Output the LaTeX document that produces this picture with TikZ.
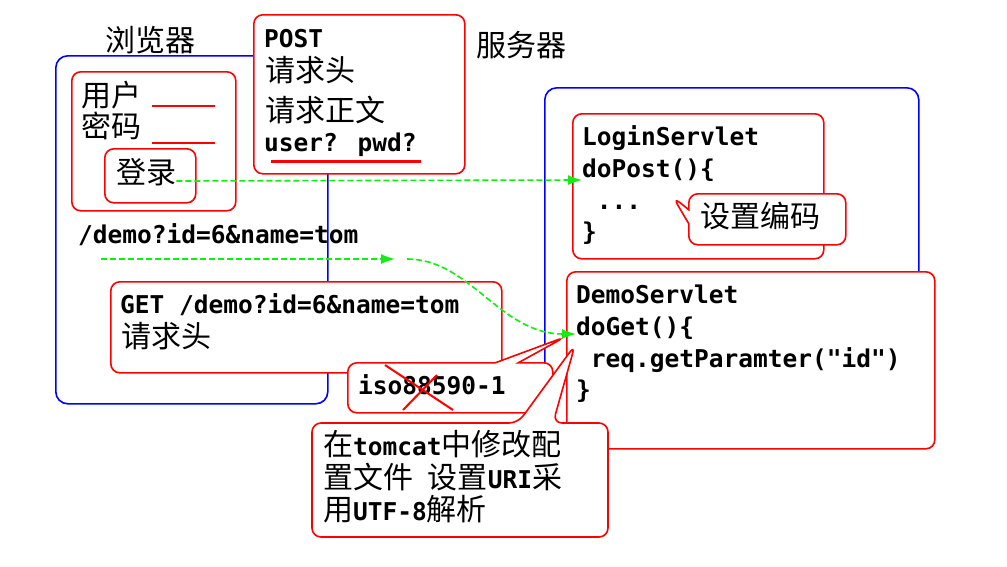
\documentclass[tikz,border=0pt]{standalone}
\usepackage{fontspec}
\usepackage{tikz}
\usetikzlibrary{arrows.meta,shapes.callouts}
\newfontfamily\monofont{DejaVu Sans Mono}
\newfontfamily\zhfont{Noto Sans CJK SC}[Scale=1.2245, BoldFont={Noto Sans CJK SC}]
\definecolor{azul}{HTML}{0000FF}
\definecolor{vermelho}{HTML}{FF0000}
\definecolor{verde}{HTML}{11EE11}
\tikzstyle{janela}=[draw=azul, line width=1.6pt, rounded corners=12pt, inner sep=0pt, anchor=north west]
\tikzstyle{caixa}=[draw=vermelho, fill=white, line width=1.6pt, rounded corners=9pt, inner sep=0pt, anchor=north west]
\tikzstyle{balao}=[caixa, rectangle callout]
\tikzstyle{texto}=[inner sep=0pt, anchor=base west, font={\fontsize{24.5}{30}\selectfont\monofont\bfseries}]
\tikzstyle{seta}=[draw=verde, line width=1.6pt, dash pattern=on 6pt off 3pt, -{Latex[length=14pt,width=10pt]}]

\begin{document}
\begin{tikzpicture}[x=1pt, y=-1pt]
	\useasboundingbox (0,0) rectangle (1007,566);
	% navegador e servidor
	\node[janela, minimum width=272pt, minimum height=348pt] (nav) at (55,55) {};
	\node[janela, minimum width=374pt, minimum height=288pt] (serv) at (544,87) {};
	\node[texto] (navt) at (105,51) {\zhfont 浏览器};
	\node[texto] (servt) at (476,56) {\zhfont 服务器};
	% pedido POST
	\node[caixa, minimum width=211pt, minimum height=159pt] (post) at (253,14) {};
	\node[texto] (p1) at (264,47) {POST};
	\node[texto] (p2) at (265,81) {\zhfont 请求头};
	\node[texto] (p3) at (265,121.5) {\zhfont 请求正文};
	\node[texto] (p4) at (264,151) {user? pwd?};
	\draw[vermelho, line width=3pt] (271,161) -- (421,161);
	% formulario
	\node[caixa, minimum width=164pt, minimum height=139pt] (form) at (71,71) {};
	\node[texto] (usuario) at (81,106) {\zhfont 用户};
	\node[texto] (senha) at (81,137.5) {\zhfont 密码};
	\draw[vermelho, line width=2pt] (152,106) -- (215,106) (152,143) -- (215,143);
	\node[caixa, minimum width=91pt, minimum height=54pt] (botao) at (104,148) {};
	\node[texto] (entrar) at (116,183.5) {\zhfont 登录};
	\node[texto] (url) at (78,243) {/demo?id=6\&name=tom};
	% LoginServlet
	\node[caixa, minimum width=251pt, minimum height=145pt] (login) at (572,113) {};
	\node[texto] (l1) at (582,145) {LoginServlet};
	\node[texto] (dopost) at (582,177) {doPost()\{};
	\node[texto] (l3) at (582,209) {\ ...};
	\node[texto] (l4) at (582,240) {\}};
	\node[balao, minimum width=157pt, minimum height=51pt, callout absolute pointer={(673,197)}, callout pointer width=14pt] (cod) at (688,193) {};
	\node[texto] (codt) at (700,227) {\zhfont 设置编码};
	% pedido GET
	\node[caixa, minimum width=391pt, minimum height=91pt] (get) at (110,281) {};
	\node[texto] (g1) at (120,313) {GET /demo?id=6\&name=tom};
	\node[texto] (g2) at (121,347) {\zhfont 请求头};
	% DemoServlet
	\node[caixa, minimum width=368pt, minimum height=177pt] (demo) at (566,271) {};
	\node[texto] (d1) at (576,303) {DemoServlet};
	\node[texto] (doget) at (576,335) {doGet()\{};
	\node[texto] (d3) at (576,367) {\ req.getParamter("id")};
	\node[texto] (d4) at (576,398) {\}};
	% setas
	\coordinate (ini) at (101,259);
	\coordinate (meio) at (395,259);
	\coordinate (volta) at (407,259);
	\draw[seta] ([yshift=2.5pt]entrar.base east) -- ([yshift=-3pt]dopost.base west);
	\draw[seta] (ini) -- (meio);
	\draw[seta] (volta) .. controls (470,259) and (500,334) .. ([yshift=1pt]doget.base west);
	% baloes
	\node[balao, minimum width=205pt, minimum height=50pt, callout absolute pointer={(565,337)}, callout pointer width=23pt] (iso) at (347,362) {};
	\node[texto] (isot) at (358,394) {iso88590-1};
	\draw[vermelho, line width=2pt] (385,365) -- (453,410) (437,375) -- (403,410);
	\draw[caixa] (312,480) |- (518,423) -- (575,345) -- (553,423) -| (608,537) -| (312,500) -- cycle;
	\node[texto] (t1) at (323,455) {{\zhfont 在}tomcat{\zhfont 中修改配}};
	\node[texto] (t2) at (323,488) {{\zhfont 置文件} {\zhfont 设置}URI{\zhfont 采}};
	\node[texto] (t3) at (323,520) {{\zhfont 用}UTF-8{\zhfont 解析}};
\end{tikzpicture}
\end{document}
